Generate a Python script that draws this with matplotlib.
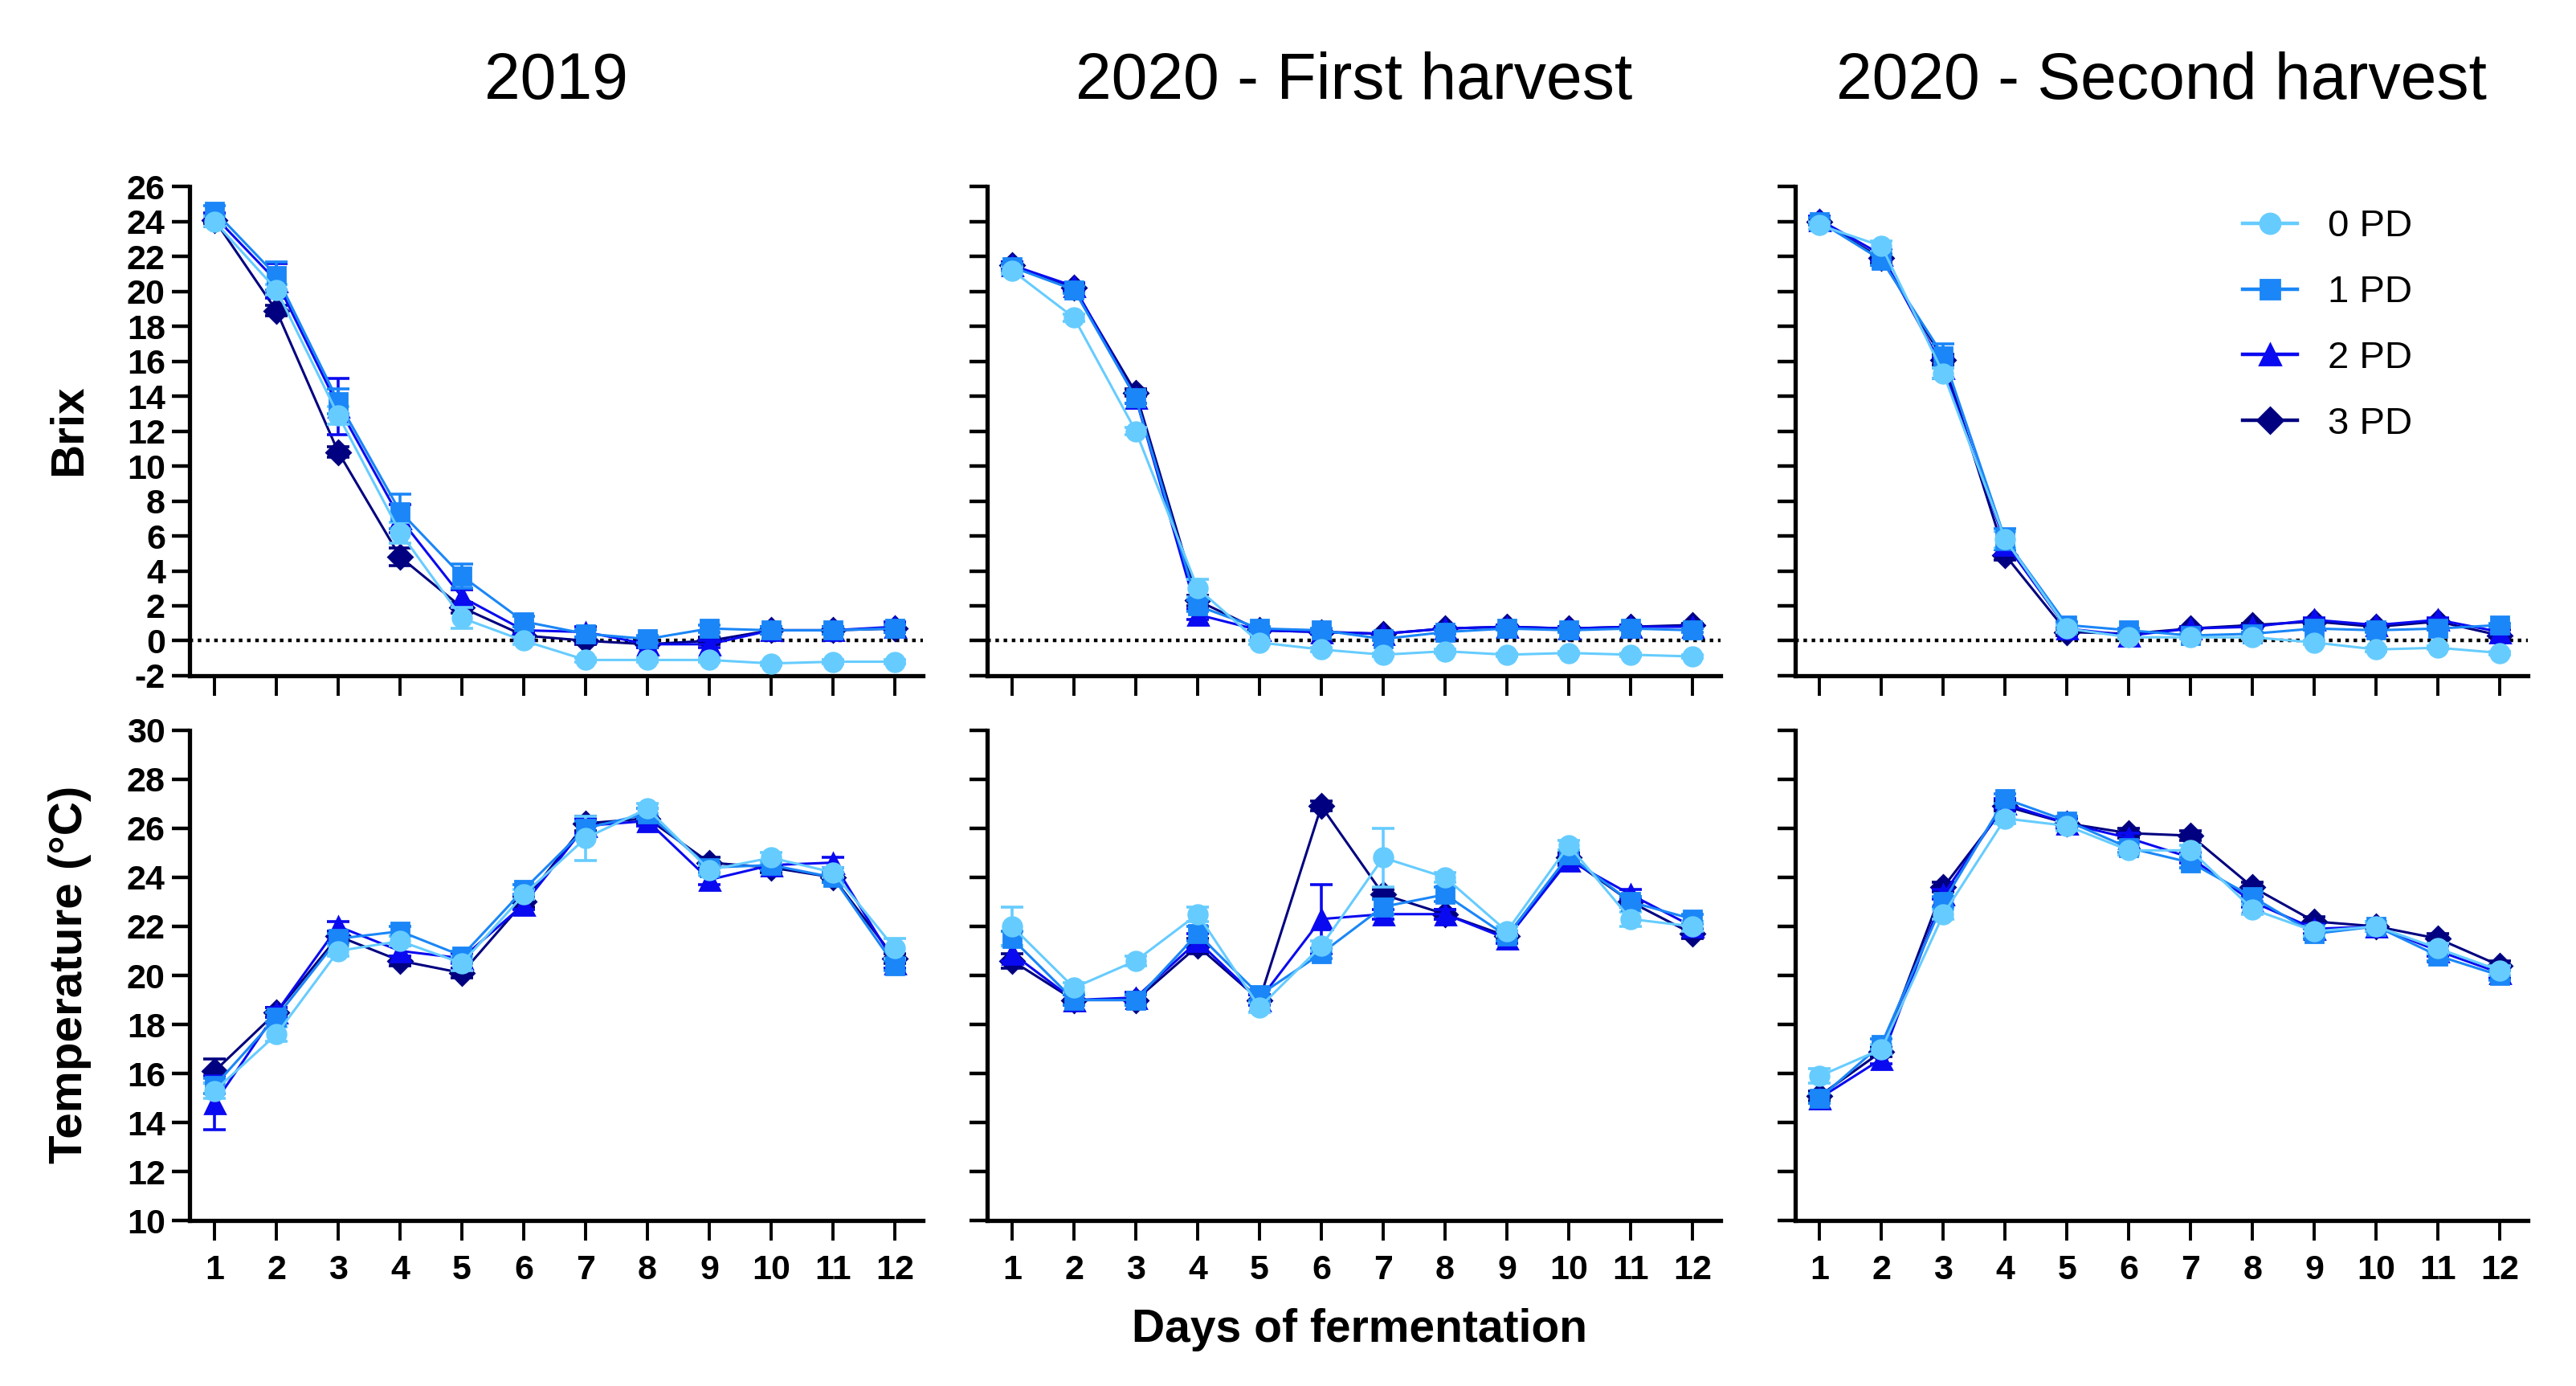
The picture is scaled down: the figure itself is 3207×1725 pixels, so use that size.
import numpy as np
import matplotlib
matplotlib.use("Agg")
import matplotlib.pyplot as plt
from matplotlib.lines import Line2D

plt.rcParams['font.family'] = ['Liberation Sans', 'DejaVu Sans']

days = np.arange(1, 13)
groups = ["0 PD", "1 PD", "2 PD", "3 PD"]
colors = ["#66CCFF", "#1A86F7", "#0A0AF0", "#000080"]
markers = ["o", "s", "^", "D"]
msizes = [8.5, 8, 9, 7.5]

panel_titles = ["2019", "2020 - First harvest", "2020 - Second harvest"]

# Brix, rows = 0 PD, 1 PD, 2 PD, 3 PD
brix_2019 = [
    [24.0, 20.1, 12.9, 6.2, 1.3, 0.0, -1.1, -1.1, -1.1, -1.3, -1.2, -1.2],
    [24.6, 20.9, 13.7, 7.4, 3.7, 1.1, 0.4, 0.1, 0.7, 0.6, 0.6, 0.7],
    [24.3, 20.6, 13.4, 7.0, 2.5, 0.6, 0.5, -0.2, -0.2, 0.6, 0.6, 0.8],
    [24.1, 18.9, 10.8, 4.8, 1.9, 0.3, 0.0, -0.2, 0.0, 0.6, 0.6, 0.7],
]
brix_2019_sd = [
    [0.3, 0.3, 0.5, 0.6, 0.6, 0.2, 0.1, 0.1, 0.1, 0.1, 0.1, 0.1],
    [0.3, 0.8, 0.7, 1.0, 0.7, 0.3, 0.2, 0.2, 0.2, 0.2, 0.2, 0.2],
    [0.2, 1.0, 1.6, 0.8, 0.4, 0.2, 0.3, 0.2, 0.2, 0.2, 0.2, 0.3],
    [0.2, 0.3, 0.3, 0.5, 0.3, 0.2, 0.2, 0.2, 0.2, 0.2, 0.2, 0.2],
]
brix_2020a = [
    [21.2, 18.5, 12.0, 3.0, -0.1, -0.5, -0.8, -0.6, -0.8, -0.7, -0.8, -0.9],
    [21.4, 20.1, 13.9, 2.0, 0.7, 0.6, 0.1, 0.5, 0.7, 0.6, 0.7, 0.6],
    [21.5, 20.3, 13.9, 1.5, 0.6, 0.5, 0.4, 0.7, 0.8, 0.7, 0.8, 0.8],
    [21.5, 20.2, 14.2, 2.3, 0.6, 0.5, 0.4, 0.7, 0.8, 0.7, 0.8, 0.9],
]
brix_2020a_sd = [
    [0.2, 0.2, 0.2, 0.5, 0.1, 0.1, 0.1, 0.1, 0.1, 0.1, 0.1, 0.1],
    [0.2, 0.2, 0.3, 0.3, 0.1, 0.1, 0.1, 0.1, 0.1, 0.1, 0.1, 0.1],
    [0.2, 0.2, 0.3, 0.3, 0.1, 0.1, 0.1, 0.1, 0.1, 0.1, 0.1, 0.1],
    [0.2, 0.2, 0.2, 0.3, 0.1, 0.1, 0.1, 0.1, 0.1, 0.1, 0.1, 0.1],
]
brix_2020b = [
    [23.8, 22.6, 15.3, 5.8, 0.7, 0.2, 0.2, 0.2, -0.1, -0.5, -0.4, -0.7],
    [24.0, 21.8, 16.3, 5.8, 0.9, 0.6, 0.3, 0.4, 0.7, 0.6, 0.7, 0.9],
    [24.1, 22.1, 15.6, 5.6, 0.7, 0.3, 0.7, 0.8, 1.2, 0.9, 1.2, 0.5],
    [24.0, 21.9, 16.1, 4.9, 0.5, 0.4, 0.7, 0.9, 1.1, 0.8, 1.1, 0.3],
]
brix_2020b_sd = [
    [0.2, 0.3, 0.3, 0.5, 0.2, 0.1, 0.1, 0.1, 0.1, 0.1, 0.1, 0.1],
    [0.2, 0.3, 0.7, 0.6, 0.2, 0.1, 0.1, 0.1, 0.1, 0.1, 0.1, 0.1],
    [0.2, 0.3, 0.6, 0.7, 0.2, 0.1, 0.1, 0.1, 0.1, 0.1, 0.1, 0.1],
    [0.2, 0.3, 0.3, 0.3, 0.2, 0.1, 0.1, 0.1, 0.1, 0.1, 0.1, 0.1],
]

# Temperature (°C)
temp_2019 = [
    [15.3, 17.6, 21.0, 21.4, 20.5, 23.3, 25.6, 26.8, 24.3, 24.8, 24.2, 21.1],
    [15.5, 18.3, 21.5, 21.8, 20.8, 23.5, 26.0, 26.6, 24.4, 24.5, 24.0, 20.4],
    [14.8, 18.5, 22.0, 21.0, 20.7, 22.9, 26.1, 26.3, 23.9, 24.5, 24.6, 20.5],
    [16.1, 18.5, 21.6, 20.6, 20.1, 23.0, 26.2, 26.4, 24.6, 24.4, 24.0, 20.7],
]
temp_2019_sd = [
    [0.3, 0.3, 0.2, 0.2, 0.3, 0.2, 0.9, 0.2, 0.2, 0.2, 0.2, 0.4],
    [0.3, 0.2, 0.2, 0.2, 0.2, 0.2, 0.3, 0.2, 0.2, 0.2, 0.2, 0.2],
    [1.1, 0.2, 0.2, 0.2, 0.2, 0.2, 0.3, 0.2, 0.2, 0.2, 0.2, 0.2],
    [0.5, 0.2, 0.2, 0.2, 0.2, 0.2, 0.3, 0.2, 0.2, 0.2, 0.2, 0.2],
]
temp_2020a = [
    [22.0, 19.5, 20.6, 22.5, 18.7, 21.2, 24.8, 24.0, 21.8, 25.3, 22.3, 22.0],
    [21.5, 19.0, 19.0, 21.7, 19.2, 20.9, 22.8, 23.3, 21.6, 24.9, 23.0, 22.3],
    [20.9, 19.0, 19.1, 21.4, 19.0, 22.3, 22.5, 22.5, 21.5, 24.7, 23.3, 22.0],
    [20.6, 19.0, 19.0, 21.2, 19.0, 26.9, 23.3, 22.5, 21.6, 24.8, 23.0, 21.7],
]
temp_2020a_sd = [
    [0.8, 0.2, 0.2, 0.3, 0.2, 0.2, 1.2, 0.2, 0.2, 0.2, 0.3, 0.2],
    [0.3, 0.2, 0.2, 0.3, 0.2, 0.2, 0.3, 0.3, 0.2, 0.2, 0.2, 0.2],
    [0.3, 0.2, 0.2, 0.3, 0.2, 1.4, 0.2, 0.2, 0.2, 0.2, 0.2, 0.2],
    [0.3, 0.2, 0.2, 0.3, 0.2, 0.2, 0.2, 0.2, 0.2, 0.2, 0.2, 0.2],
]
temp_2020b = [
    [15.9, 17.0, 22.5, 26.4, 26.1, 25.1, 25.1, 22.7, 21.8, 22.0, 21.1, 20.2],
    [15.0, 17.2, 23.0, 27.2, 26.3, 25.2, 24.6, 23.2, 21.7, 22.0, 20.8, 20.0],
    [15.0, 16.6, 23.3, 27.0, 26.2, 25.6, 24.8, 23.0, 21.9, 22.0, 21.0, 20.1],
    [15.1, 16.9, 23.6, 26.9, 26.2, 25.8, 25.7, 23.6, 22.2, 22.0, 21.5, 20.4],
]
temp_2020b_sd = [
    [0.3, 0.2, 0.2, 0.2, 0.2, 0.2, 0.2, 0.2, 0.2, 0.2, 0.2, 0.2],
    [0.2, 0.2, 0.2, 0.2, 0.2, 0.2, 0.2, 0.2, 0.2, 0.2, 0.2, 0.2],
    [0.2, 0.2, 0.2, 0.2, 0.2, 0.2, 0.2, 0.2, 0.2, 0.2, 0.2, 0.2],
    [0.2, 0.2, 0.2, 0.2, 0.2, 0.2, 0.2, 0.2, 0.2, 0.2, 0.2, 0.2],
]

brix_panels = [(brix_2019, brix_2019_sd), (brix_2020a, brix_2020a_sd), (brix_2020b, brix_2020b_sd)]
temp_panels = [(temp_2019, temp_2019_sd), (temp_2020a, temp_2020a_sd), (temp_2020b, temp_2020b_sd)]

fig = plt.figure(figsize=(16.035, 8.625), dpi=200)

lefts = [0.0737, 0.3833, 0.6968]
width = 0.2845
rows = [(0.5125, 0.3528), (0.1192, 0.354)]


def style_axis(ax, ylim, yticks, show_ylabels, show_xlabels):
    ax.set_xlim(0.6, 12.45)
    ax.set_ylim(*ylim)
    ax.set_xticks(days)
    ax.set_yticks(yticks)
    for s in ["top", "right"]:
        ax.spines[s].set_visible(False)
    for s in ["left", "bottom"]:
        ax.spines[s].set_linewidth(1.9)
    ax.tick_params(axis="x", direction="out", length=9, width=1.4, pad=6)
    ax.tick_params(axis="y", direction="out", length=8, width=1.6, pad=3)
    if show_ylabels:
        ax.set_yticklabels([str(v) for v in yticks], fontsize=15.5, fontweight="bold")
    else:
        ax.set_yticklabels([])
    if show_xlabels:
        ax.set_xticklabels([str(d) for d in days], fontsize=15.5, fontweight="bold")
    else:
        ax.set_xticklabels([])


def draw(ax, means, sds):
    # 3 PD drawn first, 0 PD last (on top)
    for k in range(3, -1, -1):
        ax.errorbar(days, means[k], yerr=sds[k], color=colors[k], marker=markers[k],
                    markersize=msizes[k], linewidth=1.1, elinewidth=1.3, capsize=5,
                    capthick=1.3, zorder=3 + (3 - k) * 0.1)


for i in range(3):
    ax = fig.add_axes([lefts[i], rows[0][0], width, rows[0][1]])
    ax.axhline(0, color="black", linestyle=(0, (1, 1.3)), linewidth=1.6, zorder=1)
    draw(ax, *brix_panels[i])
    style_axis(ax, (-2, 26), np.arange(-2, 27, 2), i == 0, False)
    if i == 2:
        handles = [Line2D([], [], color=colors[k], marker=markers[k],
                          markersize=msizes[k] + 0.5, linewidth=1.6) for k in range(4)]
        ax.legend(handles, groups, loc="upper left", bbox_to_anchor=(0.59, 0.985),
                  frameon=False, fontsize=17, handlelength=1.45, labelspacing=0.8,
                  handletextpad=0.8, borderaxespad=0)

    ax2 = fig.add_axes([lefts[i], rows[1][0], width, rows[1][1]])
    draw(ax2, *temp_panels[i])
    style_axis(ax2, (10, 30), np.arange(10, 31, 2), i == 0, True)

    fig.text(lefts[i] + width / 2, 0.941, panel_titles[i], ha="center", va="center",
             fontsize=29)

fig.text(0.027, 0.690, "Brix", rotation=90, ha="center", va="center",
         fontsize=21, fontweight="bold")
fig.text(0.027, 0.297, "Temperature (°C)", rotation=90, ha="center", va="center",
         fontsize=21, fontweight="bold")
fig.text(0.5276, 0.0405, "Days of fermentation", ha="center", va="center",
         fontsize=20.5, fontweight="bold")

fig.savefig("out.png", dpi=200)
